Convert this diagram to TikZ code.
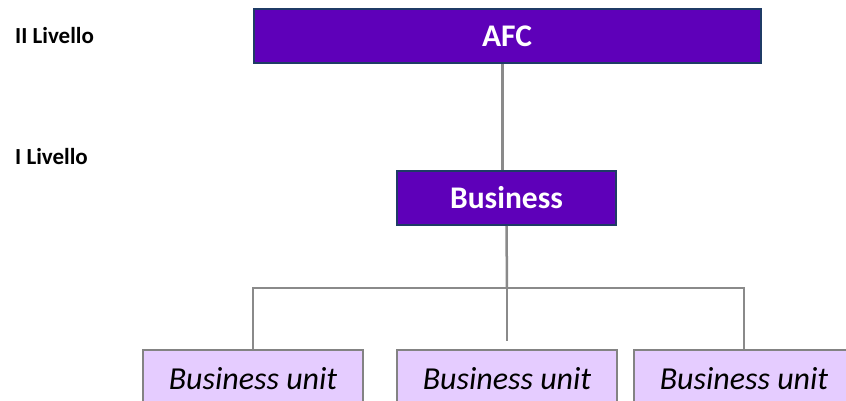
\documentclass[tikz,border=0pt]{standalone}
\usepackage{fontspec}
\setmainfont{Carlito}
\usetikzlibrary{positioning}
\definecolor{livtop}{HTML}{5E00B9}
\definecolor{livedge}{HTML}{1F3B66}
\definecolor{unitfill}{HTML}{E5CCFF}
\definecolor{linkgray}{HTML}{8A8A8A}
\tikzset{
	topbox/.style={draw=livedge, line width=2pt, fill=livtop, text=white, font=\fontsize{31.5}{33}\selectfont\bfseries, inner sep=0pt},
	unitbox/.style={draw=linkgray!95!black, line width=2pt, fill=unitfill, font=\fontsize{32}{34}\selectfont\itshape, minimum width=220pt, minimum height=58pt, inner sep=0pt},
	link/.style={draw=linkgray, line width=2.5pt},
	livlabel/.style={anchor=west, font=\fontsize{23}{25}\selectfont\bfseries, inner sep=0pt}
}
\begin{document}
\begin{tikzpicture}[x=1pt,y=-1pt]
			\useasboundingbox (0,0) rectangle (846,400);
			\node[livlabel] (liv2) at (15,36) {II Livello};
			\node[livlabel] (liv1) at (15,157) {I Livello};
			
			\node[topbox, minimum width=507pt, minimum height=54pt] (afc) at (507,36) {AFC};
			\node[topbox, minimum width=219pt, minimum height=54pt] (business) at (506.5,198) {Business};
			
			\node[unitbox] (unitA) at (253,379) {Business unit};
			\node[unitbox] (unitB) at (507,379) {Business unit};
			\node[unitbox] (unitC) at (744,379) {Business unit};
			
			\coordinate (bus) at (507,288);
			\draw[link] ([xshift=-4pt]business.north) -- ([xshift=-4pt]business.north |- afc.south);
			\draw[link] (business.south) -- (bus);
			\draw[link] (unitA.north) -- (unitA.north |- bus) -- (unitC.north |- bus) -- (unitC.north);
			\draw[link] (bus) -- ([yshift=8pt]unitB.north);
\end{tikzpicture}
\end{document}
